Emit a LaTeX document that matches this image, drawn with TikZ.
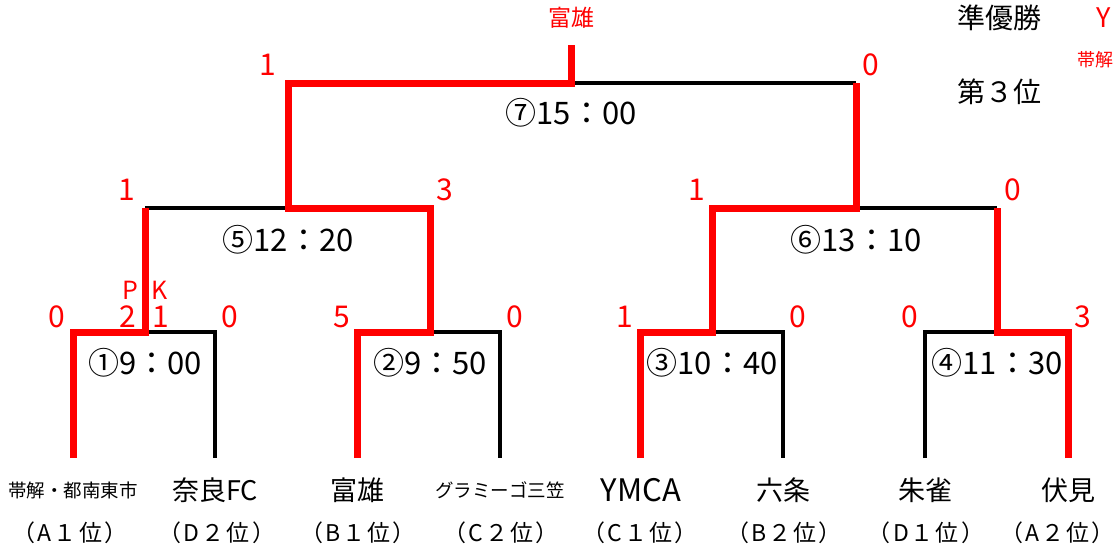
\documentclass[tikz,border=0pt]{standalone}
\usepackage{fontspec}
\setmainfont{Noto Sans CJK JP}
\begin{document}
\begin{tikzpicture}[x=1pt,y=-1pt,
    win/.style={red,line width=7pt,line join=miter},
    lose/.style={black,line width=3.5pt,line join=miter},
    score/.style={red,font=\fontsize{30}{30}\selectfont},
    match/.style={font=\fontsize{31}{31}\selectfont},
    team/.style={font=\fontsize{27}{27}\selectfont},
    small/.style={font=\fontsize{18.5}{18.5}\selectfont},
    rank/.style={inner sep=0pt,font=\fontsize{23}{23}\selectfont\addfontfeature{LetterSpace=9}}]
    \useasboundingbox (0,0) rectangle (1116,550);
    % leaves: bottom and top of each leg
    \foreach \n/\x in {a/73,b/215,c/357,d/500,e/640,f/783,g/925,h/1068}{
        \coordinate (\n) at (\x,458);
        \coordinate (\n-t) at (\x,332);
    }
    % match points
    \coordinate (m1) at (145,332); \coordinate (m1t) at (145,208);
    \coordinate (m2) at (430,332); \coordinate (m2t) at (430,208);
    \coordinate (m3) at (712,332); \coordinate (m3t) at (712,208);
    \coordinate (m4) at (997,332); \coordinate (m4t) at (997,208);
    \coordinate (m5) at (288,208); \coordinate (m5t) at (288,83);
    \coordinate (m6) at (856,208); \coordinate (m6t) at (856,83);
    \coordinate (m7) at (571,83);  \coordinate (m7t) at (571,45);
    % losers
    \draw [lose] (m1) -- (b-t) -- (b);
    \draw [lose] (m2) -- (d-t) -- (d);
    \draw [lose] (m3) -- (f-t) -- (f);
    \draw [lose] (g) -- (g-t) -- (m4);
    \draw [lose] (m1t) -- (m5);
    \draw [lose] (m6) -- (m4t);
    \draw [lose] (m7) -- (m6t);
    % winners
    \draw [win] (a) -- (a-t) -- (m1) -- (m1t);
    \draw [win] (c) -- (c-t) -- (m2) -- (m2t) -- (m5) -- (m5t) -- (m7) -- (m7t);
    \draw [win] (e) -- (e-t) -- (m3) -- (m3t) -- (m6) -- (m6t);
    \draw [win] (h) -- (h-t) -- (m4) -- (m4t);
    % times
    \node [match] (t1) at (145,363) {①9：00};
    \node [match] (t2) at (430,363) {②9：50};
    \node [match] (t3) at (712,363) {③10：40};
    \node [match] (t4) at (997,363) {④11：30};
    \node [match] (t5) at (288,240) {⑤12：20};
    \node [match] (t6) at (856,240) {⑥13：10};
    \node [match] (t7) at (571,113) {⑦15：00};
    % scores
    \node [score] (s1a) at (57,317) {0};
    \node [score] (s1b) at (230,317) {0};
    \node [score,font=\fontsize{25}{25}\selectfont] (pk) at (145,290) {P\hspace{13pt}K};
    \node [score] (pka) at (128,317) {2};
    \node [score] (pkb) at (161,317) {1};
    \node [score] (s2a) at (342,317) {5};
    \node [score] (s2b) at (515,317) {0};
    \node [score] (s3a) at (625,317) {1};
    \node [score] (s3b) at (798,317) {0};
    \node [score] (s4a) at (910,317) {0};
    \node [score] (s4b) at (1083,317) {3};
    \node [score] (s5a) at (127,190) {1};
    \node [score] (s5b) at (445,190) {3};
    \node [score] (s6a) at (697,190) {1};
    \node [score] (s6b) at (1013,190) {0};
    \node [score] (s7a) at (268,65) {1};
    \node [score] (s7b) at (871,65) {0};
    \node [red,font=\fontsize{23}{23}\selectfont] (champ) at (571,18) {富雄};
    % teams
    \node [small] (na) at (73,490) {帯解・都南東市};
    \node [team] (nb) at (215,490) {奈良FC};
    \node [team] (nc) at (357,490) {富雄};
    \node [small] (nd) at (500,490) {グラミーゴ三笠};
    \node [team,font=\fontsize{31}{31}\selectfont] (ne) at (641,490) {YMCA};
    \node [team] (nf) at (783,490) {六条};
    \node [team] (ng) at (925,490) {朱雀};
    \node [team] (nh) at (1068,490) {伏見};
    \node [rank] (ra) at (70,533) {（A１位）};
    \node [rank] (rb) at (217,533) {（D２位）};
    \node [rank] (rc) at (358,533) {（B１位）};
    \node [rank] (rd) at (501,533) {（C２位）};
    \node [rank] (re) at (640,533) {（C１位）};
    \node [rank] (rf) at (784,533) {（B２位）};
    \node [rank] (rg) at (926,533) {（D１位）};
    \node [rank,anchor=east] (rh) at (1115,533) {（A２位）};
    % places
    \node [team,font=\fontsize{28}{28}\selectfont] (second) at (999,18) {準優勝};
    \node [team,font=\fontsize{28}{28}\selectfont] (third) at (999,92) {第３位};
    \node [red,team,anchor=west] (secondname) at (1093,18) {Y};
    \node [red,font=\fontsize{18}{18}\selectfont] (thirdname) at (1095,60) {帯解};
\end{tikzpicture}
\end{document}
